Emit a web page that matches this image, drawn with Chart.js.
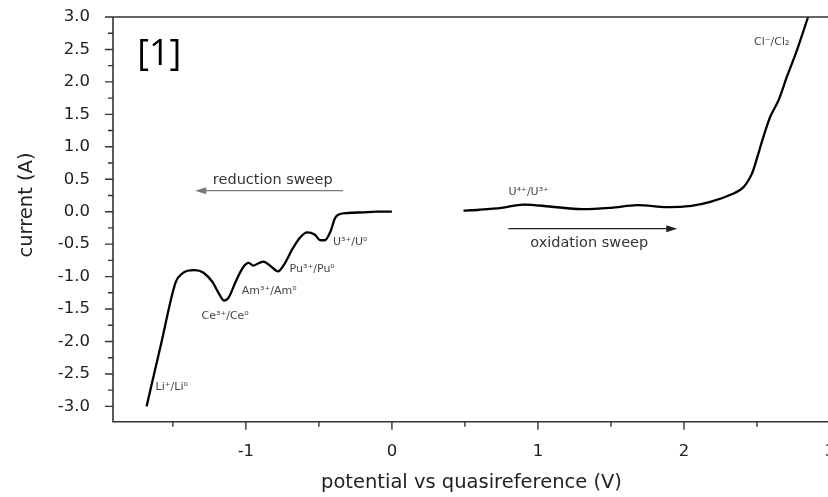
<!DOCTYPE html>
<html>
<head>
<meta charset="utf-8">
<script src="https://cdn.jsdelivr.net/npm/chart.js@4.4.1/dist/chart.umd.min.js"></script>
<style>
  html, body { margin: 0; padding: 0; background: #fff; overflow: hidden; }
  #wrap { width: 840px; height: 497px; }
</style>
</head>
<body>
<div id="wrap"><canvas id="cv" width="840" height="497"></canvas></div>
<script>
// reduction sweep (x: potential V, y: current A)
const redX = [-1.68, -1.58, -1.48, -1.44, -1.40, -1.35, -1.29, -1.23, -1.18, -1.15, -1.12, -1.07, -1.02, -0.98, -0.95, -0.91, -0.88, -0.83, -0.78, -0.74, -0.68, -0.63, -0.58, -0.53, -0.49, -0.46, -0.42, -0.39, -0.36, -0.30, -0.20, -0.10, 0.00];
const redY = [-3.00, -2.03, -1.08, -0.96, -0.91, -0.90, -0.94, -1.08, -1.28, -1.37, -1.33, -1.08, -0.86, -0.79, -0.83, -0.79, -0.77, -0.84, -0.92, -0.82, -0.57, -0.40, -0.32, -0.35, -0.44, -0.44, -0.30, -0.10, -0.04, -0.02, -0.01, 0.00, 0.00];

// oxidation sweep
const oxX = [0.49, 0.60, 0.75, 0.90, 1.08, 1.30, 1.50, 1.68, 1.88, 2.05, 2.18, 2.34, 2.41, 2.466, 2.51, 2.545, 2.59, 2.648, 2.705, 2.774, 2.85];
const oxY = [0.015, 0.03, 0.06, 0.11, 0.08, 0.04, 0.06, 0.10, 0.07, 0.09, 0.15, 0.28, 0.385, 0.59, 0.90, 1.16, 1.46, 1.72, 2.08, 2.49, 3.00];

const xMajor = [-1, 0, 1, 2, 3];
const xMinor = [-1.5, -0.5, 0.5, 1.5, 2.5];
const yMajor = [3.0, 2.5, 2.0, 1.5, 1.0, 0.5, 0.0, -0.5, -1.0, -1.5, -2.0, -2.5, -3.0];
const yMinor = [2.75, 2.25, 1.75, 1.25, 0.75, 0.25, -0.25, -0.75, -1.25, -1.75, -2.25, -2.75];

// peak labels [text, x, y]
const peakLabels = [
  ['Li\u207A/Li\u2070', -1.508, -2.70],
  ['Ce\u00B3\u207A/Ce\u2070', -1.142, -1.607],
  ['Am\u00B3\u207A/Am\u2070', -0.840, -1.217],
  ['Pu\u00B3\u207A/Pu\u2070', -0.546, -0.883],
  ['U\u00B3\u207A/U\u2070', -0.286, -0.462],
  ['U\u2074\u207A/U\u00B3\u207A', 0.937, 0.304],
  ['Cl\u207B/Cl\u2082', 2.601, 2.615]
];

const toPts = (xs, ys) => xs.map((x, i) => ({x: x, y: ys[i]}));

const FONT = '"DejaVu Sans", sans-serif';

const decor = {
  id: 'decor',
  afterDraw(chart) {
    const ctx = chart.ctx;
    const xs = chart.scales.x, ys = chart.scales.y;
    const area = chart.chartArea;
    ctx.save();
    // axes frame: left, bottom, top
    ctx.strokeStyle = '#333';
    ctx.lineWidth = 1.6;
    ctx.beginPath();
    ctx.moveTo(area.left, area.top);
    ctx.lineTo(area.left, area.bottom);
    ctx.lineTo(area.right, area.bottom);
    ctx.moveTo(area.left, area.top);
    ctx.lineTo(area.right, area.top);
    ctx.stroke();
    // ticks
    ctx.lineWidth = 1.4;
    ctx.beginPath();
    xMajor.forEach(v => { const p = xs.getPixelForValue(v); ctx.moveTo(p, area.bottom); ctx.lineTo(p, area.bottom + 8); });
    xMinor.forEach(v => { const p = xs.getPixelForValue(v); ctx.moveTo(p, area.bottom); ctx.lineTo(p, area.bottom + 5); });
    yMajor.forEach(v => { const p = ys.getPixelForValue(v); ctx.moveTo(area.left, p); ctx.lineTo(area.left - 8, p); });
    yMinor.forEach(v => { const p = ys.getPixelForValue(v); ctx.moveTo(area.left, p); ctx.lineTo(area.left - 5, p); });
    ctx.stroke();

    // y title
    ctx.fillStyle = '#222';
    ctx.font = '19.5px ' + FONT;
    ctx.textAlign = 'center';
    ctx.textBaseline = 'middle';
    ctx.save();
    ctx.translate(27, 205);
    ctx.rotate(-Math.PI / 2);
    ctx.fillText('current (A)', 0, 0);
    ctx.restore();

    // [1]
    ctx.fillStyle = '#000';
    ctx.font = '36px "Open Sans", sans-serif';
    ctx.textAlign = 'left';
    ctx.fillText('[1]', xs.getPixelForValue(-1.744), ys.getPixelForValue(2.414));

    // peak labels
    ctx.fillStyle = '#444';
    ctx.font = '11px ' + FONT;
    ctx.textAlign = 'center';
    peakLabels.forEach(l => ctx.fillText(l[0], xs.getPixelForValue(l[1]), ys.getPixelForValue(l[2])));

    // sweep texts
    ctx.fillStyle = '#333';
    ctx.font = '14.5px ' + FONT;
    ctx.fillText('reduction sweep', xs.getPixelForValue(-0.816), ys.getPixelForValue(0.488));
    ctx.fillText('oxidation sweep', xs.getPixelForValue(1.351), ys.getPixelForValue(-0.482));

    // arrows
    function arrow(x1, x2, y, color) {
      const a = xs.getPixelForValue(x1), b = xs.getPixelForValue(x2), py = ys.getPixelForValue(y);
      const dir = b > a ? 1 : -1;
      ctx.strokeStyle = color;
      ctx.fillStyle = color;
      ctx.lineWidth = 1.3;
      ctx.beginPath();
      ctx.moveTo(a, py);
      ctx.lineTo(b - dir * 6, py);
      ctx.stroke();
      ctx.beginPath();
      ctx.moveTo(b, py);
      ctx.lineTo(b - dir * 11, py - 3.5);
      ctx.lineTo(b - dir * 11, py + 3.5);
      ctx.closePath();
      ctx.fill();
    }
    arrow(-0.334, -1.347, 0.324, '#777');
    arrow(0.797, 1.954, -0.262, '#222');
    ctx.restore();
  }
};

new Chart(document.getElementById('cv'), {
  type: 'scatter',
  data: {
    datasets: [
      { data: toPts(redX, redY), showLine: true, borderColor: '#000', borderWidth: 2.3, pointRadius: 0, tension: 0.35, cubicInterpolationMode: 'monotone' },
      { data: toPts(oxX, oxY), showLine: true, borderColor: '#000', borderWidth: 2.3, pointRadius: 0, tension: 0.3 }
    ]
  },
  options: {
    responsive: false,
    animation: false,
    layout: { padding: { top: 17, right: 10, left: 0, bottom: 0 } },
    plugins: { legend: { display: false }, tooltip: { enabled: false } },
    scales: {
      x: {
        type: 'linear', min: -1.91, max: 3.0,
        grid: { display: false },
        border: { display: false },
        ticks: { padding: 12, color: '#222', font: { family: FONT, size: 16.5 }, callback: v => String(v) },
        afterBuildTicks: s => { s.ticks = xMajor.map(v => ({value: v})); },
        afterFit: s => { s.height = 75.3; s.paddingLeft = 0; s.paddingRight = 0; },
        title: { display: true, text: 'potential vs quasireference (V)', color: '#222', font: { family: FONT, size: 19.5 }, padding: { top: 0, bottom: 2 } }
      },
      y: {
        type: 'linear', min: -3.236, max: 3.0,
        grid: { display: false },
        border: { display: false },
        ticks: { padding: 15, color: '#222', font: { family: FONT, size: 16.5 }, callback: v => v.toFixed(1) },
        afterBuildTicks: s => { s.ticks = yMajor.map(v => ({value: v})); },
        afterFit: s => { s.width = 113; s.paddingTop = 0; s.paddingBottom = 0; }
      }
    }
  },
  plugins: [decor]
});
</script>
</body>
</html>
